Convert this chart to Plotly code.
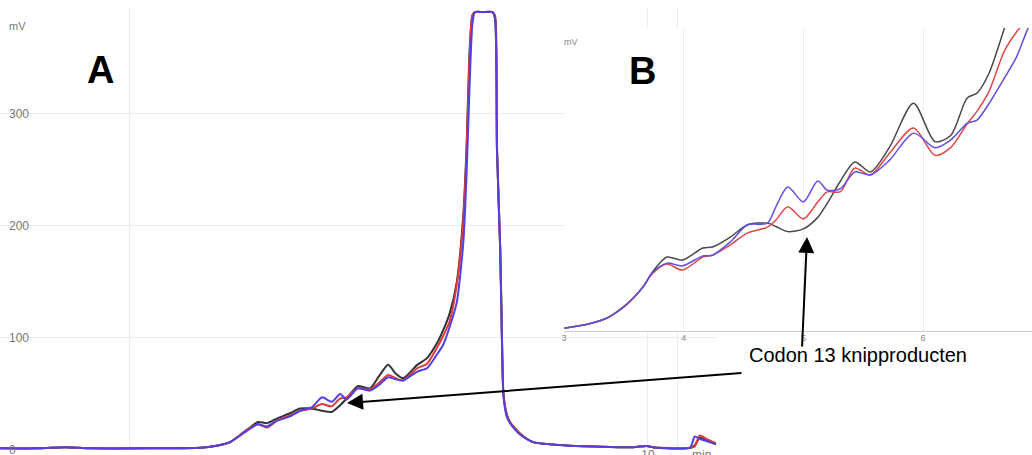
import plotly.graph_objects as go

# ---------------- Main chromatogram (A) ----------------
t_main = [0, 0.6, 1.0, 1.4, 2.3, 3.1, 3.32, 3.55, 3.81, 3.98,
          4.12, 4.27, 4.48, 4.63, 4.81, 4.97, 5.12, 5.25, 5.35, 5.52,
          5.71, 5.85, 5.99, 6.11, 6.22, 6.44, 6.59, 6.74, 6.84, 6.94,
          7.05, 7.15, 7.2, 7.25, 7.29, 7.33, 7.45, 7.6, 7.64, 7.67,
          7.72, 7.75, 7.77, 7.82, 7.87, 8.02, 8.23, 8.75, 9.77, 9.98,
          10.1, 10.65, 10.72, 10.8, 10.9, 11.05]
black_main = [1.5, 1.5, 2.5, 1.5, 1.5, 2, 3.5, 7, 18, 25,
              24, 28, 33, 37, 37, 35, 34, 40, 46, 57,
              55, 66, 76, 68, 64, 76, 82, 95, 107, 122,
              150, 210, 270, 360, 388, 391, 391, 391, 385, 268,
              179, 89, 50, 32, 25, 15, 7, 4, 2.5, 3.5,
              2.2, 2, 4, 11, 9, 6]
red_main = [1.5, 1.5, 2.5, 1.5, 1.5, 2, 3.5, 7, 18, 23,
            20, 26, 31, 35, 37, 41, 39, 46, 47, 55,
            54, 60, 67, 64, 62, 73, 77, 91, 102, 115,
            148, 205, 265, 355, 388, 391, 391, 391, 388, 270,
            180, 90, 50, 32, 25, 15, 7, 4, 2.5, 3.5,
            2.2, 2, 3, 13, 10, 6]
blue_main = [1.5, 1.5, 2.5, 1.5, 1.5, 2, 3.5, 7, 17, 23,
             21, 26, 30, 35, 38, 47, 43, 50, 45, 55,
             53, 58, 65, 63, 62, 70, 73, 85, 94, 110,
             132, 185, 245, 330, 380, 391, 391, 391, 386, 268,
             178, 88, 48, 30, 24, 14, 7, 4, 2.5, 3.5,
             2.2, 2, 12, 10, 8, 5]
main_y_ticks = [0, 100, 200, 300]
main_x_ticks = [2, 10, 10.45]
main_x_labels = ["", "10", ""]

# ---------------- Inset (B) ----------------
t_inset = [3.0, 3.22, 3.36, 3.49, 3.58, 3.66, 3.74, 3.86, 3.99, 4.16,
           4.24, 4.39, 4.53, 4.70, 4.77, 4.87, 5.0, 5.12, 5.2, 5.31,
           5.43, 5.56, 5.72, 5.92, 6.1, 6.23, 6.37, 6.45, 6.55, 6.68,
           6.78, 6.87, 6.95]
black_inset = [0.9, 2.5, 4.3, 7.8, 11, 14.5, 19.5, 24.4, 23.4, 27.4,
               27.7, 31, 35, 35.6, 34.5, 32.8, 33.7, 37.5, 42.2, 49.5,
               55.8, 52.5, 60.7, 75.2, 62.5, 64.5, 77, 78.5, 85, 100,
               112, 120, 128]
red_inset = [0.9, 2.5, 4.3, 7.6, 10.9, 14.5, 19, 22.1, 20.1, 24.4,
             25, 28.4, 32.3, 34.3, 36.6, 41, 37, 42.6, 45.9, 46,
             53.8, 51.5, 58.7, 67, 58, 60.5, 68.5, 72.5, 79, 92.5,
             98.7, 103, 110]
blue_inset = [0.9, 2.5, 4.3, 7.6, 10.9, 14.5, 19.3, 22.4, 21.5, 24.8,
              25, 29.4, 35, 35.6, 41, 47.5, 42.6, 49.5, 46.5, 47,
              52.5, 51.5, 56.4, 65.3, 60.5, 63, 68.6, 69.6, 75, 83.5,
              90.4, 99.3, 106]
inset_x_ticks = [3, 4, 5, 6]

BLACK, RED, BLUE = "#333333", "#e0393a", "#5040e0"

fig = go.Figure()
for ys, c in [(black_main, BLACK), (red_main, RED), (blue_main, BLUE)]:
    fig.add_trace(go.Scatter(x=t_main, y=ys, mode="lines", xaxis="x", yaxis="y",
                             line=dict(color=c, width=2, shape="spline", smoothing=0.6),
                             hoverinfo="skip"))
for ys, c in [(black_inset, "#4a4a4a"), (red_inset, "#e04848"), (blue_inset, "#6050e0")]:
    fig.add_trace(go.Scatter(x=t_inset, y=ys, mode="lines", xaxis="x2", yaxis="y2",
                             line=dict(color=c, width=1.5, shape="spline", smoothing=0.8),
                             hoverinfo="skip"))

W, H = 1032, 455
def px(x):
    return x / W
def py(y):
    return 1 - y / H

grid = "#ececec"
fig.update_layout(
    width=W, height=H, margin=dict(l=0, r=0, t=0, b=0),
    paper_bgcolor="white", plot_bgcolor="white", showlegend=False,
    font=dict(family="Arial, Liberation Sans, sans-serif"),
    xaxis=dict(domain=[0, px(716)], range=[0, 11.05], anchor="y",
               tickvals=main_x_ticks, ticktext=main_x_labels,
               showgrid=True, gridcolor=grid, zeroline=False, showline=False,
               ticks="", tickfont=dict(size=12, color="#777"),
               ticklabelstandoff=-4, automargin=False),
    yaxis=dict(domain=[py(450), py(8)], range=[0, 394.6], anchor="x",
               tickvals=main_y_ticks, ticklabelposition="inside",
               ticklabeloverflow="allow", ticklabelstandoff=6,
               tickfont=dict(size=12, color="#777"),
               showgrid=True, gridcolor=grid, zeroline=False, showline=False,
               ticks="", automargin=False),
    xaxis2=dict(domain=[px(564), 1.0], range=[3, 6.91], anchor="y2",
                tickvals=inset_x_ticks, tickfont=dict(size=9, color="#888"),
                showgrid=True, gridcolor="#eeeeee", zeroline=False,
                showline=True, linecolor="#cccccc", linewidth=1, ticks="",
                ticklabelstandoff=-2, automargin=False),
    yaxis2=dict(domain=[py(331), py(28)], range=[0, 100], anchor="x2",
                showgrid=False, showticklabels=False, zeroline=False,
                showline=False, ticks="", automargin=False),
)

annotations = [
    dict(text="<b>A</b>", x=px(100), y=py(47), xanchor="center", font=dict(size=38, color="black")),
    dict(text="<b>B</b>", x=px(642), y=py(48), xanchor="center", font=dict(size=38, color="black")),
    dict(text="mV", x=px(7), y=py(18), xanchor="left", font=dict(size=11, color="#777")),
    dict(text="mV", x=px(562), y=py(35), xanchor="left", font=dict(size=9, color="#888")),
    dict(text="min", x=px(701), y=py(446), xanchor="center", yanchor="top",
         font=dict(size=12, color="#777")),
    dict(text="Codon 13 knipproducten", x=px(858), y=py(368), xanchor="center",
         font=dict(size=20, color="black")),
]
for a in annotations:
    a.update(xref="paper", yref="paper", showarrow=False)
    fig.add_annotation(**a)

for tip, tail in [((347, 403), (743, 373)), ((807, 237), (802, 348))]:
    fig.add_annotation(xref="paper", yref="paper", x=px(tip[0]), y=py(tip[1]),
                       ax=tail[0] - tip[0], ay=tail[1] - tip[1], text="",
                       showarrow=True, arrowhead=2, arrowsize=1.6, arrowwidth=2,
                       arrowcolor="black", standoff=0)

fig.write_html("out.html", config={"displayModeBar": False},
               post_script="document.body.style.margin='0';document.body.style.overflow='hidden';")
